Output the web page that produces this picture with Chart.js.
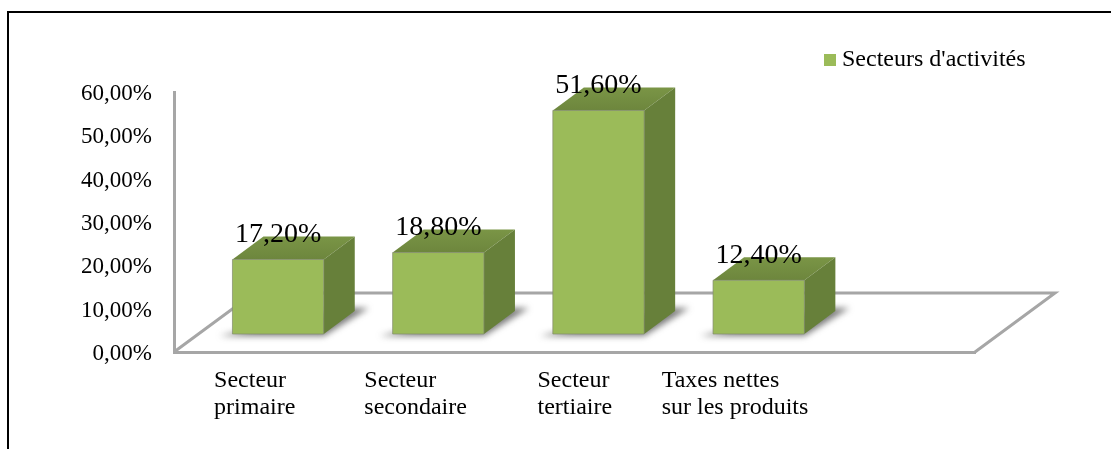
<!DOCTYPE html>
<html>
<head>
<meta charset="utf-8">
<script src="https://cdn.jsdelivr.net/npm/chart.js@4"></script>
<style>
  html, body { margin: 0; padding: 0; background: #fff; overflow: hidden; }
  #frame { position: absolute; left: 7px; top: 11px; right: 0; bottom: 0; border-top: 2px solid #000; border-left: 2px solid #000; pointer-events: none; }
  canvas { position: absolute; left: 0; top: 0; }
</style>
</head>
<body>
<canvas id="myChart" width="1111" height="449"></canvas>
<div id="frame"></div>
<script>
var categories = [['Secteur', 'primaire'], ['Secteur', 'secondaire'], ['Secteur', 'tertiaire'], ['Taxes nettes', 'sur les produits']];
var values = [17.2, 18.8, 51.6, 12.4];
var valueLabels = ['17,20%', '18,80%', '51,60%', '12,40%'];
var seriesName = "Secteurs d'activités";
var yTicks = ['0,00%', '10,00%', '20,00%', '30,00%', '40,00%', '50,00%', '60,00%'];

var serif = '"Liberation Serif", serif';
var floorX = 80, floorY = 59;  // depth of the floor
var shiftX = 24, shiftY = 18;  // bars stand in the middle of the floor
var depthX = 31, depthY = 23;  // depth of a bar
var labelOffsets = [-40, -50, -37, -73];

function poly(ctx, pts) {
  ctx.beginPath();
  ctx.moveTo(pts[0][0], pts[0][1]);
  for (var i = 1; i < pts.length; i++) ctx.lineTo(pts[i][0], pts[i][1]);
  ctx.closePath();
}

var fake3d = {
  id: 'fake3d',
  afterLayout: function (chart) {
    var lg = chart.legend;
    lg.left = 824; lg.right = 1100; lg.top = 42; lg.bottom = 80;
  },
  beforeDatasetsDraw: function (chart) {
    var ctx = chart.ctx, a = chart.chartArea;
    // floor
    ctx.save();
    ctx.strokeStyle = '#a6a6a6';
    ctx.lineWidth = 3;
    ctx.beginPath();
    ctx.moveTo(a.left, a.bottom);
    ctx.lineTo(a.left + floorX, a.bottom - floorY);
    ctx.lineTo(a.right + floorX, a.bottom - floorY);
    ctx.lineTo(a.right, a.bottom);
    ctx.stroke();
    // shadows of the bars
    ctx.filter = 'blur(3px)';
    ctx.fillStyle = 'rgba(80,80,80,0.75)';
    chart.getDatasetMeta(0).data.forEach(function (el) {
      var l = el.x - el.width / 2 + shiftX, r = l + el.width, b = el.base - shiftY;
      poly(ctx, [[l - 13, b + 2], [r, b + 2], [r + 45, b - 26], [r + 20, b - 26]]);
      ctx.fill();
    });
    ctx.restore();
  },
  beforeDatasetDraw: function (chart) {
    chart.ctx.save();
    chart.ctx.translate(shiftX, -shiftY);
  },
  afterDatasetDraw: function (chart) {
    var ctx = chart.ctx;
    ctx.restore();
    chart.getDatasetMeta(0).data.forEach(function (el, i) {
      var l = el.x - el.width / 2 + shiftX, r = l + el.width;
      var t = el.y - shiftY, b = el.base - shiftY;
      var g = ctx.createLinearGradient(0, t - depthY, 0, t);
      g.addColorStop(0, '#7a9546');
      g.addColorStop(1, '#6d863d');
      ctx.fillStyle = g;
      poly(ctx, [[l, t], [l + depthX, t - depthY], [r + depthX, t - depthY], [r, t]]);
      ctx.fill();
      ctx.fillStyle = '#67803a';
      poly(ctx, [[r, t], [r + depthX, t - depthY], [r + depthX, b - depthY], [r, b]]);
      ctx.fill();
      ctx.strokeStyle = 'rgba(130,140,110,0.7)';
      ctx.lineWidth = 1;
      poly(ctx, [[l, t], [r, t], [r, b], [l, b]]);
      ctx.stroke();

      ctx.fillStyle = '#000';
      ctx.font = '28px ' + serif;
      ctx.textAlign = 'center';
      ctx.textBaseline = 'middle';
      ctx.fillText(valueLabels[i], el.x + shiftX, t - 25);
    });
  },
  afterDraw: function (chart) {
    // hand placed category labels, as in the original
    var ctx = chart.ctx, xs = chart.scales.x;
    ctx.save();
    ctx.fillStyle = '#000';
    ctx.font = '24px ' + serif;
    ctx.textAlign = 'left';
    ctx.textBaseline = 'middle';
    categories.forEach(function (lines, i) {
      lines.forEach(function (line, n) {
        ctx.fillText(line, xs.getPixelForValue(i) + labelOffsets[i], 381 + n * 27);
      });
    });
    ctx.restore();
  }
};

new Chart(document.getElementById('myChart'), {
  type: 'bar',
  data: {
    labels: categories.map(function (c) { return c.join(' '); }).concat(['']),
    datasets: [{
      label: seriesName,
      data: values,
      backgroundColor: '#9BBB59',
      borderWidth: 0,
      barPercentage: 0.57,
      categoryPercentage: 1,
      clip: false
    }]
  },
  options: {
    responsive: false,
    animation: false,
    layout: { padding: { top: 92, right: 136, bottom: 89, left: 0 } },
    plugins: {
      tooltip: { enabled: false },
      legend: {
        position: 'chartArea',
        align: 'start',
        labels: {
          usePointStyle: true,
          pointStyle: 'rect',
          boxWidth: 0.01,
          boxHeight: 12,
          padding: 6,
          color: '#000',
          font: { family: serif, size: 24 }
        }
      }
    },
    scales: {
      x: {
        grid: { display: false },
        border: { color: '#a6a6a6', width: 3 },
        ticks: { display: false }
      },
      y: {
        min: 0,
        max: 60,
        afterFit: function (scale) { scale.width = 174; },
        grid: { display: false, drawTicks: false },
        border: { color: '#a6a6a6', width: 3 },
        ticks: {
          stepSize: 10,
          padding: 22,
          labelOffset: 2,
          color: '#000',
          font: { family: serif, size: 23 },
          callback: function (v) { return yTicks[v / 10]; }
        }
      }
    }
  },
  plugins: [fake3d]
});
</script>
</body>
</html>
